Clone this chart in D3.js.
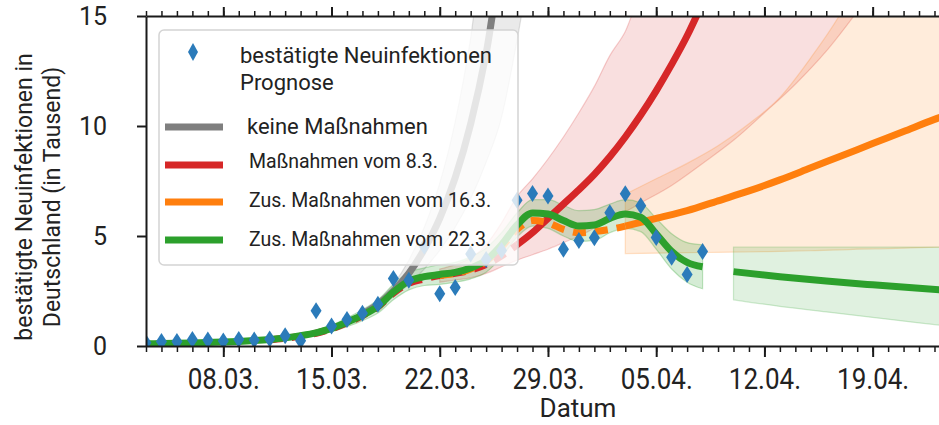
<!DOCTYPE html>
<html>
<head>
<meta charset="utf-8">
<script src="https://cdn.jsdelivr.net/npm/d3@7"></script>
<style>
  body { margin: 0; background: #fff; }
  svg { display: block; font-family: Roboto, "Noto Sans", sans-serif; }
</style>
</head>
<body>
<div id="grafico"></div>
<script>
// 1. Konfiguration
ANCHO = 939
ALTO  = 425
C_BLAU   = '#2b7bba'
C_GRAU   = '#7f7f7f'
C_ROT    = '#d62728'
C_ORANGE = '#ff7f0e'
C_GRUEN  = '#2ca02c'

// 2. Daten (Tag 0 = 03.03.2020, Werte in Tausend)
start = Date.UTC(2020, 2, 3)
ende  = Date.UTC(2020, 3, 23, 7)

faelle = [0.15, 0.2, 0.2, 0.3, 0.27, 0.23, 0.3, 0.27, 0.32, 0.47, 0.24,
          1.6, 0.91, 1.21, 1.49, 1.9, 3.07, 2.99, 4.53, 2.37, 2.66, 4.18,
          3.93, 4.34, 6.62, 6.93, 6.82, 4.4, 4.79, 4.92, 6.06, 6.92, 6.37,
          4.93, 4.03, 3.25, 4.29]

// Fit "Zus. Maßnahmen vom 22.3." (Tag 0..36)
gruenFit   = [0.1, 0.11, 0.12, 0.14, 0.16, 0.18, 0.21, 0.25, 0.3, 0.37, 0.47,
              0.6, 0.8, 1.08, 1.4, 1.8, 2.45, 2.95, 3.15, 3.25, 3.35, 3.55,
              3.9, 4.6, 5.5, 6.05, 6.0, 5.7, 5.45, 5.5, 5.8, 6.0, 5.85,
              5.1, 4.3, 3.8, 3.6]
gruenBreite = [0.08, 0.08, 0.08, 0.08, 0.08, 0.08, 0.08, 0.08, 0.08, 0.08, 0.1,
               0.12, 0.15, 0.2, 0.25, 0.3, 0.35, 0.4, 0.4, 0.45, 0.45, 0.5,
               0.55, 0.55, 0.55, 0.6, 0.65, 0.7, 0.7, 0.7, 0.65, 0.65, 0.65,
               0.7, 0.8, 0.9, 1.0]
// Prognose ab 10.04.
gruenProgTage = [38, 41, 44, 47, 50, 52]
gruenProg     = [3.38, 3.15, 2.95, 2.78, 2.62, 2.52]
gruenProgLo   = [2.1, 1.8, 1.55, 1.3, 1.05, 0.9]
gruenProgHi   = [4.5, 4.5, 4.5, 4.5, 4.5, 4.5]

// "Maßnahmen vom 8.3."
rotFitTage = [8, 9, 10, 11, 12, 13, 14, 15, 16, 17, 18, 19, 20, 21, 22, 23, 24]
rotFit     = [0.28, 0.35, 0.45, 0.58, 0.78, 1.05, 1.38, 1.78, 2.4, 2.85, 3.05,
              3.2, 3.3, 3.45, 3.7, 4.1, 4.6]
rotProgTage = [24, 25, 26, 27, 28, 29, 30, 31, 32, 33, 34, 35, 36, 37]
rotProg     = [4.6, 5.15, 5.8, 6.45, 7.1, 7.8, 8.6, 9.5, 10.5, 11.6, 12.8, 14.1, 15.6, 17.2]
rotBandTage = [19, 20, 21, 22, 23, 24, 25, 26, 27, 28, 29, 30, 31, 32, 34, 36, 38, 40, 42, 44, 46]
rotBandLo   = [2.9, 3.0, 3.1, 3.3, 3.6, 3.9, 4.15, 4.4, 4.7, 5.0, 5.35, 5.7, 6.1, 6.5, 7.3, 8.3, 9.35, 10.6, 11.9, 13.4, 15.2]
rotBandHi   = [3.5, 3.7, 4.0, 4.6, 5.6, 6.8, 7.6, 8.5, 9.5, 10.6, 11.8, 13.2, 14.3, 16.0, 17, 17, 17, 17, 17, 17, 17]

// "Zus. Maßnahmen vom 16.3."
orangeFitTage = [19, 20, 21, 22, 23, 24, 25, 26, 27, 28, 29, 30, 31]
orangeFit     = [3.2, 3.3, 3.5, 3.85, 4.5, 5.3, 5.7, 5.6, 5.3, 5.15, 5.2, 5.3, 5.45]
orangeProgTage = [31, 33, 35, 37, 39, 41, 43, 45, 47, 49, 51, 52]
orangeProg     = [5.45, 5.8, 6.15, 6.6, 7.05, 7.55, 8.1, 8.65, 9.2, 9.75, 10.3, 10.55]
orangeBandTage = [31, 33, 35, 37, 39, 41, 43, 45, 46, 48, 50, 52]
orangeBandLo   = [4.2, 4.22, 4.24, 4.26, 4.28, 4.3, 4.33, 4.37, 4.4, 4.43, 4.47, 4.5]
orangeBandHi   = [6.9, 7.6, 8.3, 9.1, 10.1, 11.3, 13.1, 15.2, 16.5, 17, 17, 17]

// "keine Maßnahmen"
grauTage = [14, 15, 16, 17, 18, 19, 20, 21, 22, 23, 24, 25]
grau     = [1.45, 1.9, 2.5, 3.3, 4.4, 5.8, 7.65, 10.1, 13.3, 17.5, 19, 19]
grauLo   = [1.4, 1.8, 2.25, 2.8, 3.5, 4.35, 5.4, 6.7, 8.35, 10.4, 13.9, 18]
grauHi   = [1.5, 2.05, 2.8, 3.9, 5.4, 7.4, 10.2, 14.0, 19, 19, 19, 19]

// Achsen
yTicks = [0, 5, 10, 15]
xMajor = ['08.03.', '15.03.', '22.03.', '29.03.', '05.04.', '12.04.', '19.04.']

legende = [
  {text: 'keine Maßnahmen',          farbe: C_GRAU,   y: 127, ty: 134, tx: 247, fs: 22},
  {text: 'Maßnahmen vom 8.3.',       farbe: C_ROT,    y: 165, ty: 168, tx: 249, fs: 19.5},
  {text: 'Zus. Maßnahmen vom 16.3.', farbe: C_ORANGE, y: 202, ty: 207, tx: 249, fs: 19.5},
  {text: 'Zus. Maßnahmen vom 22.3.', farbe: C_GRUEN,  y: 240, ty: 246, tx: 249, fs: 19.5}
]

// 3. Skalen
tag = i => new Date(start + i * 86400000)

x = d3.scaleUtc().domain([new Date(start), new Date(ende)]).range([146, 939])
y = d3.scaleLinear().domain([0, 15]).range([346, 16])

svg = d3.select('#grafico').append('svg')
  .attr('width', ANCHO).attr('height', ALTO)

svg.append('clipPath').attr('id', 'clip')
  .append('rect').attr('x', 146).attr('y', 16).attr('width', ANCHO - 146).attr('height', 330)

plot = svg.append('g').attr('clip-path', 'url(#clip)')

function reihe(tage, werte) {
  return tage.map((t, i) => ({t: t, v: werte[i]}))
}
function band(tage, lo, hi) {
  return tage.map((t, i) => ({t: t, lo: lo[i], hi: hi[i]}))
}

linie = d3.line().x(d => x(tag(d.t))).y(d => y(d.v)).curve(d3.curveMonotoneX)
flaeche = d3.area().x(d => x(tag(d.t))).y0(d => y(d.lo)).y1(d => y(d.hi)).curve(d3.curveMonotoneX)

function zeichneBand(daten, farbe, alpha) {
  plot.append('path').datum(daten)
    .attr('d', flaeche)
    .attr('fill', farbe).attr('fill-opacity', alpha)
    .attr('stroke', farbe).attr('stroke-opacity', alpha * 1.4).attr('stroke-width', 1.2)
}
function zeichneLinie(daten, farbe, dash) {
  plot.append('path').datum(daten)
    .attr('d', linie)
    .attr('fill', 'none')
    .attr('stroke', farbe).attr('stroke-width', 7)
    .attr('stroke-dasharray', dash ? '13,9' : null)
}

// 4. Bänder
zeichneBand(band(grauTage, grauLo, grauHi), C_GRAU, 0.16)
zeichneBand(band(rotBandTage, rotBandLo, rotBandHi), C_ROT, 0.15)
zeichneBand(band(orangeBandTage, orangeBandLo, orangeBandHi), C_ORANGE, 0.15)
gTage = gruenFit.map((v, i) => i)
zeichneBand(band(gTage, gruenFit.map((v, i) => v - gruenBreite[i]), gruenFit.map((v, i) => v + gruenBreite[i])), C_GRUEN, 0.2)
zeichneBand(band(gruenProgTage, gruenProgLo, gruenProgHi), C_GRUEN, 0.15)

// 5. Linien
zeichneLinie(reihe(grauTage, grau), C_GRAU, false)
zeichneLinie(reihe(rotFitTage, rotFit), C_ROT, true)
zeichneLinie(reihe(rotProgTage, rotProg), C_ROT, false)
zeichneLinie(reihe(orangeFitTage, orangeFit), C_ORANGE, true)
zeichneLinie(reihe(orangeProgTage, orangeProg), C_ORANGE, false)
zeichneLinie(reihe(gTage, gruenFit), C_GRUEN, false)
zeichneLinie(reihe(gruenProgTage, gruenProg), C_GRUEN, false)

// 6. Datenpunkte
raute = 'M0,-8.5L5.5,0L0,8.5L-5.5,0Z'
plot.selectAll('path.punkt').data(faelle).enter()
  .append('path').attr('class', 'punkt')
  .attr('d', raute)
  .attr('transform', (d, i) => `translate(${x(tag(i))},${y(d)})`)
  .attr('fill', C_BLAU)

// 7. Achsen
alleTage = d3.utcDay.range(new Date(start), new Date(ende))
hauptTage = xMajor.map((s, i) => tag(5 + 7 * i))

function achsen(g, achse, gross) {
  g.call(achse)
  g.select('.domain').attr('stroke', '#1a1a1a').attr('stroke-width', 2)
  g.selectAll('.tick line').attr('stroke', '#1a1a1a').attr('stroke-width', gross ? 2 : 1.5)
}

unten = svg.append('g').attr('transform', 'translate(0,346)')
achsen(unten, d3.axisBottom(x).tickValues(alleTage).tickSize(6).tickFormat('').tickSizeOuter(0), false)
unten2 = svg.append('g').attr('transform', 'translate(0,346)')
achsen(unten2, d3.axisBottom(x).tickValues(hauptTage).tickSize(11).tickSizeOuter(0)
  .tickFormat((d, i) => xMajor[i]), true)
unten2.select('.domain').remove()
unten2.selectAll('.tick text')
  .attr('y', 0).attr('dy', 0)
  .attr('transform', 'translate(0,43) scale(1,1.12)')
  .attr('font-size', 26).attr('fill', '#222').attr('font-family', 'Roboto')

oben = svg.append('g').attr('transform', 'translate(0,16)')
achsen(oben, d3.axisTop(x).tickValues(alleTage).tickSize(5).tickFormat('').tickSizeOuter(0), false)
oben2 = svg.append('g').attr('transform', 'translate(0,16)')
achsen(oben2, d3.axisTop(x).tickValues(hauptTage).tickSize(9).tickFormat('').tickSizeOuter(0), true)
oben2.select('.domain').remove()

links = svg.append('g').attr('transform', 'translate(146,0)')
achsen(links, d3.axisLeft(y).tickValues(yTicks).tickSize(9).tickPadding(30).tickSizeOuter(0), true)
links.selectAll('.tick text').attr('font-size', 25).attr('fill', '#222').attr('font-family', 'Roboto')

svg.append('text').attr('x', 578).attr('y', 417).attr('text-anchor', 'middle')
  .attr('font-size', 26).attr('fill', '#222').text('Datum')

titel = svg.append('g').attr('transform', 'translate(0,197) rotate(-90)')
titel.append('text').attr('x', 0).attr('y', 32).attr('text-anchor', 'middle')
  .attr('font-size', 23).attr('fill', '#222').text('bestätigte Neuinfektionen in')
titel.append('text').attr('x', 0).attr('y', 60).attr('text-anchor', 'middle')
  .attr('font-size', 23).attr('fill', '#222').text('Deutschland (in Tausend)')

// 8. Legende
leg = svg.append('g')
leg.append('rect').attr('x', 159).attr('y', 30).attr('width', 359).attr('height', 235)
  .attr('rx', 5).attr('fill', '#fff').attr('fill-opacity', 0.8)
  .attr('stroke', '#d4d4d4').attr('stroke-width', 1.5)
leg.append('path').attr('d', 'M0,-9L5,0L0,9L-5,0Z').attr('transform', 'translate(193,52)').attr('fill', C_BLAU)
leg.append('text').attr('x', 240).attr('y', 63).attr('font-size', 22).attr('fill', '#222').text('bestätigte Neuinfektionen')
leg.append('text').attr('x', 240).attr('y', 90).attr('font-size', 22).attr('fill', '#222').text('Prognose')
legende.forEach(e => {
  leg.append('line').attr('x1', 165).attr('x2', 223).attr('y1', e.y).attr('y2', e.y)
    .attr('stroke', e.farbe).attr('stroke-width', 7)
  leg.append('text').attr('x', e.tx).attr('y', e.ty).attr('font-size', e.fs).attr('fill', '#222').text(e.text)
})
</script>
</body>
</html>
